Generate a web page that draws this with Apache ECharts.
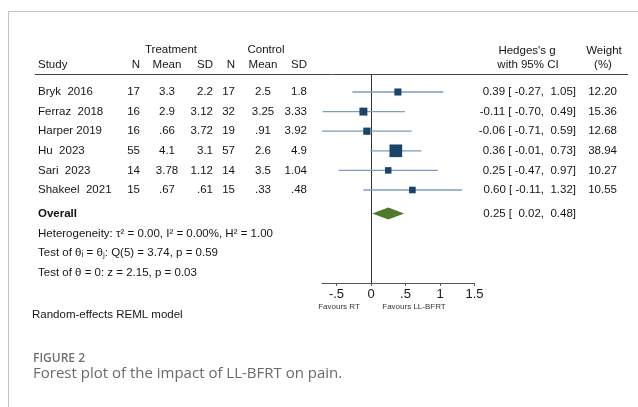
<!DOCTYPE html>
<html>
<head>
<meta charset="utf-8">
<script src="https://cdn.jsdelivr.net/npm/echarts@6/dist/echarts.min.js"></script>
<style>html,body{margin:0;padding:0;background:#fff;}#c{width:638px;height:407px;}</style>
</head>
<body>
<div id="c"></div>
<script>
// ---- data ----
const studies = ['Bryk  2016', 'Ferraz  2018', 'Harper 2019', 'Hu  2023', 'Sari  2023', 'Shakeel  2021'];
const treatN = [17, 16, 16, 55, 14, 15];
const treatMean = [3.3, 2.9, 0.66, 4.1, 3.78, 0.67];
const treatSD = [2.2, 3.12, 3.72, 3.1, 1.12, 0.61];
const ctrlN = [17, 32, 19, 57, 14, 15];
const ctrlMean = [2.5, 3.25, 0.91, 2.6, 3.5, 0.33];
const ctrlSD = [1.8, 3.33, 3.92, 4.9, 1.04, 0.48];
const effect = [0.39, -0.11, -0.06, 0.36, 0.25, 0.60];
const ciLow = [-0.27, -0.70, -0.71, -0.01, -0.47, -0.11];
const ciHigh = [1.05, 0.49, 0.59, 0.73, 0.97, 1.32];
const weights = [12.20, 15.36, 12.68, 38.94, 10.27, 10.55];
const overallEffect = 0.25, overallLow = 0.02, overallHigh = 0.48;
const xTicks = [-0.5, 0, 0.5, 1, 1.5];
const rows = [1, 2, 3, 4, 5, 6];
const overallRow = 7.2;

function fmtNum(v) { let s = String(v); if (s.startsWith('0.')) s = s.slice(1); return s; }
function fmtTick(v) { if (v === 0) return '0'; let s = String(v); return s.replace(/^(-?)0\./, '$1.'); }
function fmtCI(g, l, h) {
  return g.toFixed(2).padStart(5, ' ') + ' [' + l.toFixed(2).padStart(6, ' ') + ',' + h.toFixed(2).padStart(6, ' ') + ']';
}

const FONT = '11.5px "Liberation Sans", Arial, sans-serif';
const TXT = '#161616';

const cols = [
  { x: 38, align: 'left', get: i => studies[i] },
  { x: 140, align: 'right', get: i => String(treatN[i]) },
  { x: 167, align: 'center', get: i => fmtNum(treatMean[i]) },
  { x: 213, align: 'right', get: i => fmtNum(treatSD[i]) },
  { x: 235, align: 'right', get: i => String(ctrlN[i]) },
  { x: 263, align: 'center', get: i => fmtNum(ctrlMean[i]) },
  { x: 307, align: 'right', get: i => fmtNum(ctrlSD[i]) },
  { x: 576, align: 'right', get: i => fmtCI(effect[i], ciLow[i], ciHigh[i]) },
  { x: 617, align: 'right', get: i => weights[i].toFixed(2) }
];

const chart = echarts.init(document.getElementById('c'));

function txt(x, y, text, align, extra) {
  return Object.assign({
    type: 'text', x: x, y: y,
    style: { text: text, fill: TXT, font: FONT, align: align || 'left', verticalAlign: 'middle' }
  }, extra || {});
}

const graphics = [
  { type: 'line', shape: { x1: 8, y1: 11.5, x2: 638, y2: 11.5 }, style: { stroke: '#c4c4c4', lineWidth: 1 } },
  { type: 'line', shape: { x1: 8.5, y1: 11, x2: 8.5, y2: 407 }, style: { stroke: '#c4c4c4', lineWidth: 1 } },
  { type: 'line', shape: { x1: 35, y1: 74.5, x2: 628, y2: 74.5 }, style: { stroke: '#444', lineWidth: 1 } },
  txt(171, 50, 'Treatment', 'center'),
  txt(266, 50, 'Control', 'center'),
  txt(38, 65, 'Study', 'left'),
  txt(140, 65, 'N', 'right'),
  txt(167, 65, 'Mean', 'center'),
  txt(213, 65, 'SD', 'right'),
  txt(235, 65, 'N', 'right'),
  txt(263, 65, 'Mean', 'center'),
  txt(307, 65, 'SD', 'right'),
  txt(527, 51, "Hedges's g", 'center'),
  txt(528, 65, 'with 95% CI', 'center'),
  txt(604, 51, 'Weight', 'center'),
  txt(603, 65, '(%)', 'center'),
  txt(38, 234, 'Heterogeneity: \u03c4\u00b2 = 0.00, I\u00b2 = 0.00%, H\u00b2 = 1.00', 'left'),
  txt(38, 253, 'Test of \u03b8\u1d62 = \u03b8\u2c7c: Q(5) = 3.74, p = 0.59', 'left'),
  txt(38, 273, 'Test of \u03b8 = 0: z = 2.15, p = 0.03', 'left'),
  txt(32, 315, 'Random-effects REML model', 'left'),
  { type: 'text', x: 339, y: 307, style: { text: 'Favours RT', fill: '#333', font: '8px "Liberation Sans", Arial, sans-serif', align: 'center', verticalAlign: 'middle' } },
  { type: 'text', x: 414, y: 307, style: { text: 'Favours LL-BFRT', fill: '#333', font: '8px "Liberation Sans", Arial, sans-serif', align: 'center', verticalAlign: 'middle' } },
  { type: 'text', x: 33, y: 359, style: { text: 'FIGURE 2', fill: '#707070', font: '600 12px "Open Sans", sans-serif', align: 'left', verticalAlign: 'middle' } },
  { type: 'text', x: 33, y: 374, style: { text: 'Forest plot of the impact of LL-BFRT on pain.', fill: '#6a6a6a', font: '15px "Open Sans", sans-serif', align: 'left', verticalAlign: 'middle' } }
];

const option = {
  animation: false,
  backgroundColor: '#fff',
  grid: { left: 322, right: 163.5, top: 75, bottom: 124, containLabel: false },
  xAxis: {
    type: 'value', min: -0.71, max: 1.5,
    axisLine: { show: true, onZero: false, lineStyle: { color: '#555', width: 1 } },
    axisTick: { show: true, customValues: xTicks, length: 3, lineStyle: { color: '#555' } },
    axisLabel: { show: true, customValues: xTicks, formatter: v => fmtTick(v), margin: 5, color: '#161616', fontSize: 13, fontFamily: '"Liberation Sans", Arial, sans-serif' },
    splitLine: { show: false }
  },
  yAxis: {
    type: 'value', inverse: true, min: 0.133, max: 10.745,
    axisLine: { show: true, onZero: true, lineStyle: { color: '#333', width: 1 } },
    axisTick: { show: false }, axisLabel: { show: false }, splitLine: { show: false }
  },
  graphic: graphics,
  series: [
    {
      type: 'custom', clip: false, silent: true,
      data: rows.map((r, i) => [0, r, i]),
      renderItem: function (params, api) {
        const i = api.value(2);
        const y = api.coord([0, api.value(1)])[1];
        return {
          type: 'group',
          children: cols.map(c => ({
            type: 'text', x: c.x, y: y,
            style: { text: c.get(i), fill: TXT, font: FONT, align: c.align, verticalAlign: 'middle' }
          }))
        };
      }
    },
    {
      type: 'custom', clip: false, silent: true,
      data: [[0, overallRow]],
      renderItem: function (params, api) {
        const y = api.coord([0, api.value(1)])[1];
        return {
          type: 'group',
          children: [
            { type: 'text', x: 38, y: y, style: { text: 'Overall', fill: '#111', font: 'bold 11.5px "Liberation Sans", Arial, sans-serif', align: 'left', verticalAlign: 'middle' } },
            { type: 'text', x: 576, y: y, style: { text: fmtCI(overallEffect, overallLow, overallHigh), fill: TXT, font: FONT, align: 'right', verticalAlign: 'middle' } }
          ]
        };
      }
    },
    {
      type: 'custom', clip: false, silent: true,
      data: rows.map((r, i) => [effect[i], r, ciLow[i], ciHigh[i], weights[i]]),
      renderItem: function (params, api) {
        const p = api.coord([api.value(0), api.value(1)]);
        const pl = api.coord([api.value(2), api.value(1)]);
        const ph = api.coord([api.value(3), api.value(1)]);
        const s = 2.03 * Math.sqrt(api.value(4));
        return {
          type: 'group',
          children: [
            { type: 'line', shape: { x1: pl[0], y1: p[1], x2: ph[0], y2: p[1] }, style: { stroke: '#7b9cc0', lineWidth: 1.3 } },
            { type: 'rect', shape: { x: p[0] - s / 2, y: p[1] - s / 2, width: s, height: s }, style: { fill: '#1b4469' } }
          ]
        };
      }
    },
    {
      type: 'custom', clip: false, silent: true,
      data: [[overallEffect, overallRow, overallLow, overallHigh]],
      renderItem: function (params, api) {
        const p = api.coord([api.value(0), api.value(1)]);
        const pl = api.coord([api.value(2), api.value(1)]);
        const ph = api.coord([api.value(3), api.value(1)]);
        const h = 6;
        return {
          type: 'polygon',
          shape: { points: [[pl[0], p[1]], [p[0], p[1] - h], [ph[0], p[1]], [p[0], p[1] + h]] },
          style: { fill: '#4e7a2a' }
        };
      }
    }
  ]
};
chart.setOption(option);
</script>
</body>
</html>
